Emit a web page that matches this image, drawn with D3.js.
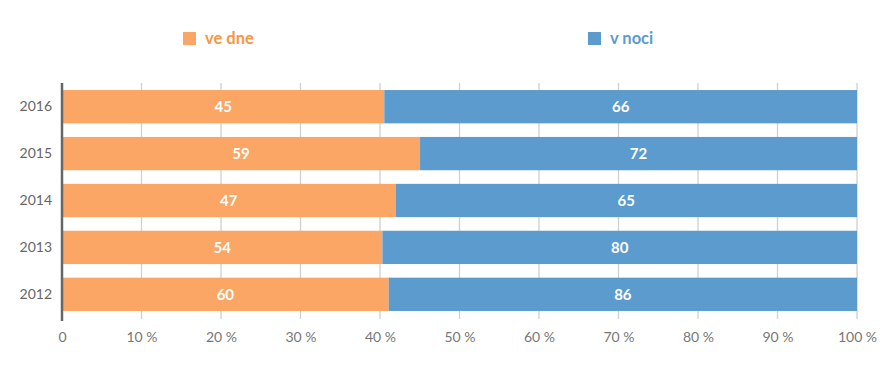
<!DOCTYPE html>
<html><head><meta charset="utf-8">
<script src="https://cdn.jsdelivr.net/npm/d3@7"></script>
<style>body{margin:0;background:#fff;}svg{display:block;font-family:Lato,"Open Sans",sans-serif;}</style>
</head><body><svg id="c" width="889" height="384"></svg>
<script>
const years = ["2016","2015","2014","2013","2012"];
const dayValues = [45,59,47,54,60];
const nightValues = [66,72,65,80,86];
const seriesNames = ["ve dne","v noci"];
const seriesColors = ["#FBA664","#5B9BCE"];
const legendTextColors = ["#F79646","#5B9BD5"];
const tickValues = [0,0.1,0.2,0.3,0.4,0.5,0.6,0.7,0.8,0.9,1];

const svg = d3.select("#c");
const x = d3.scaleLinear().domain([0,1]).range([62,857]);
const y = d3.scaleBand().domain(years).range([83,318]).paddingInner(0.29).paddingOuter(0.15);

const data = years.map((yr,i)=>({yr, day:dayValues[i], night:nightValues[i], total:dayValues[i]+nightValues[i]}));

// gridlines
svg.append("g").selectAll("line").data(tickValues.slice(1)).join("line")
  .attr("x1",d=>x(d)).attr("x2",d=>x(d)).attr("y1",83).attr("y2",319)
  .attr("stroke","#d0d0d0").attr("stroke-width",1.3);

// bars
const g = svg.append("g");
data.forEach(d=>{
  const p = d.day/d.total;
  g.append("rect").attr("x",x(0)).attr("y",y(d.yr)).attr("width",x(p)-x(0)).attr("height",y.bandwidth()).attr("fill",seriesColors[0]);
  g.append("rect").attr("x",x(p)).attr("y",y(d.yr)).attr("width",x(1)-x(p)).attr("height",y.bandwidth()).attr("fill",seriesColors[1]);
  g.append("text").attr("x",(x(0)+x(p))/2).attr("y",y(d.yr)+y.bandwidth()/2).attr("dy","0.38em")
    .attr("text-anchor","middle").attr("fill","#fff").attr("font-weight","bold").attr("font-size",15).text(d.day);
  g.append("text").attr("x",(x(p)+x(1))/2).attr("y",y(d.yr)+y.bandwidth()/2).attr("dy","0.38em")
    .attr("text-anchor","middle").attr("fill","#fff").attr("font-weight","bold").attr("font-size",15).text(d.night);
});

// y axis line
svg.append("line").attr("x1",62).attr("x2",62).attr("y1",83).attr("y2",321).attr("stroke","#666").attr("stroke-width",2.5);

// y labels
const yAxis = d3.axisLeft(y).tickSize(0).tickPadding(10);
const ya = svg.append("g").attr("transform","translate(62,0)").call(yAxis);
ya.select(".domain").remove();
ya.selectAll("text").attr("font-size",14).attr("fill","#666").attr("font-family","Lato,'Open Sans',sans-serif");

// x axis labels
const xAxis = d3.axisBottom(x).tickValues(tickValues).tickSize(0).tickPadding(10)
  .tickFormat(d=>d===0?"0":Math.round(d*100)+" %");
const xa = svg.append("g").attr("transform","translate(0,328)").call(xAxis);
xa.select(".domain").remove();
xa.selectAll("text").attr("font-size",14).attr("fill","#777").attr("font-family","Lato,'Open Sans',sans-serif").attr("dy","0.35em").attr("y",9);

// legend
const legX = [183,588];
seriesNames.forEach((n,i)=>{
  svg.append("rect").attr("x",legX[i]).attr("y",32).attr("width",13).attr("height",13).attr("fill",seriesColors[i]);
  svg.append("text").attr("x",legX[i]+22).attr("y",38.5).attr("dy","0.36em").attr("font-size",16.5)
    .attr("font-weight","bold").attr("fill",legendTextColors[i]).text(n);
});
</script></body></html>
